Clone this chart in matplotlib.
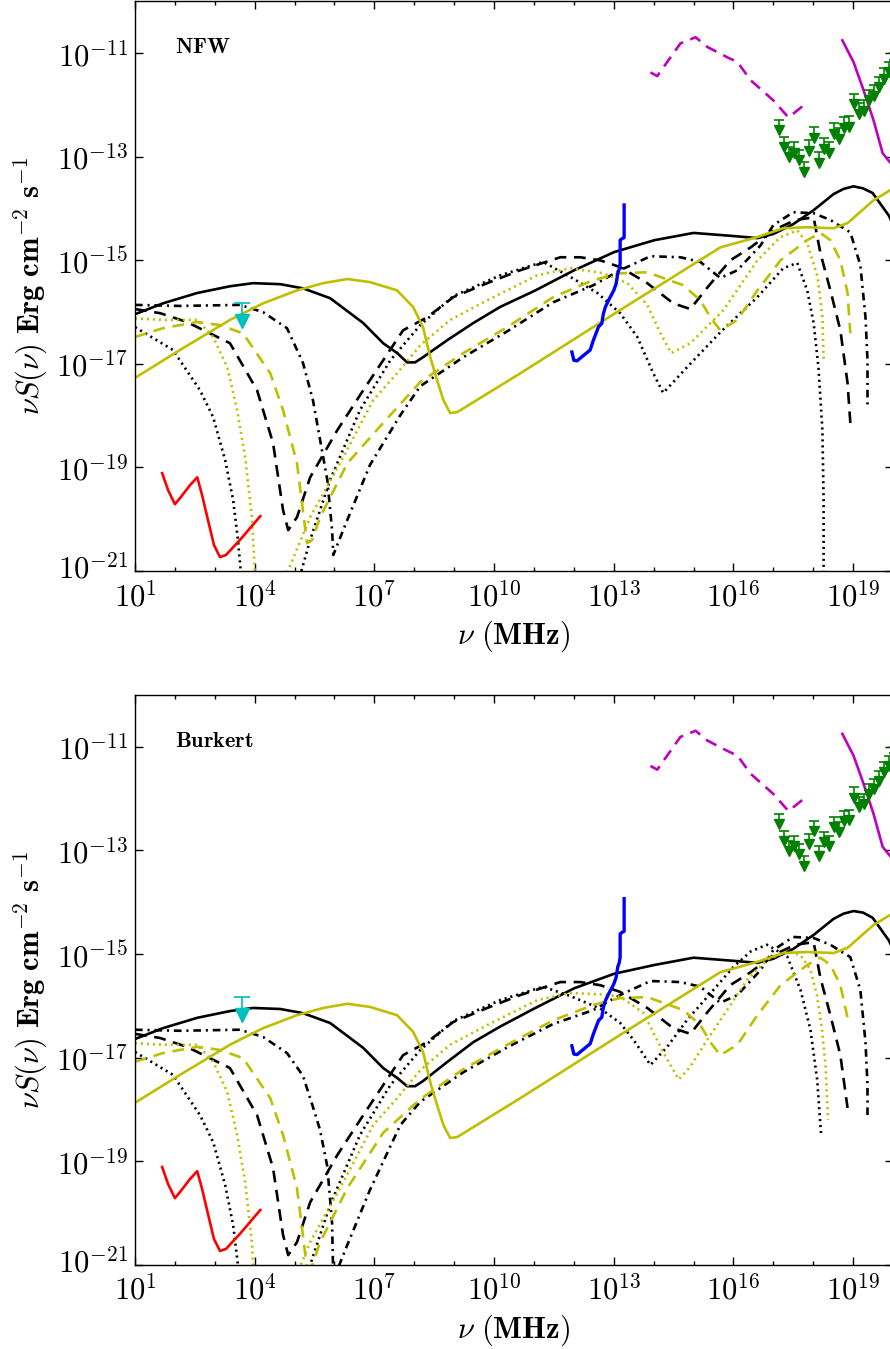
import numpy as np
import matplotlib
matplotlib.use("Agg")
import matplotlib.pyplot as plt
from matplotlib.ticker import FixedLocator, FuncFormatter, NullFormatter, NullLocator
from matplotlib.transforms import ScaledTranslation

plt.rcParams["mathtext.fontset"] = "cm"
plt.rcParams["lines.scale_dashes"] = False
plt.rcParams["axes.linewidth"] = 1.0

# ---------------- data (log10 nu [MHz], log10 nuS [erg cm^-2 s^-1]) ----------------
K_SOLID_X = [1.00, 1.70, 2.56, 3.38, 3.96, 4.64, 5.21, 5.89, 6.72, 7.22, 7.57, 7.82, 8.02, 8.22, 8.83,
             9.48, 10.15, 11.01, 12.01, 13.01, 14.02, 15.00, 16.00, 16.60, 17.00, 17.50, 18.01, 18.51,
             18.76, 19.01, 19.25, 19.49, 19.89, 20.19]
K_SOLID_NFW = [-16.04, -15.83, -15.63, -15.50, -15.44, -15.46, -15.54, -15.73, -16.21, -16.60, -16.79,
               -16.97, -16.97, -16.87, -16.54, -16.21, -15.90, -15.59, -15.19, -14.84, -14.61, -14.47,
               -14.53, -14.57, -14.49, -14.30, -14.03, -13.72, -13.62, -13.57, -13.61, -13.70, -14.13,
               -14.61]
K_SOLID_BUR = [-16.64, -16.43, -16.23, -16.10, -16.04, -16.06, -16.14, -16.33, -16.81, -17.20, -17.39,
               -17.55, -17.55, -17.45, -17.08, -16.70, -16.40, -16.05, -15.66, -15.38, -15.21, -15.07,
               -15.13, -15.17, -15.09, -14.90, -14.63, -14.32, -14.22, -14.17, -14.20, -14.30, -14.73,
               -15.21]

Y_SOLID_X = [1.00, 2.13, 3.38, 4.21, 5.06, 5.72, 6.32, 6.89, 7.57, 7.97, 8.22, 8.40, 8.57, 8.73, 8.90,
             9.08, 10.66, 13.16, 15.67, 16.60, 17.25, 17.85, 18.51, 18.86, 19.20, 19.51, 19.94, 20.19]
Y_SOLID_NFW = [-17.27, -16.73, -16.15, -15.83, -15.58, -15.44, -15.36, -15.42, -15.58, -15.90, -16.29,
               -16.87, -17.31, -17.70, -17.95, -17.93, -17.18, -15.96, -14.75, -14.55, -14.38, -14.36,
               -14.38, -14.28, -14.05, -13.84, -13.64, -13.59]
Y_SOLID_BUR = [-17.87, -17.33, -16.75, -16.43, -16.18, -16.04, -15.96, -16.02, -16.18, -16.50, -16.89,
               -17.47, -17.91, -18.30, -18.55, -18.53, -17.78, -16.56, -15.35, -15.15, -14.98, -14.96,
               -14.98, -14.88, -14.65, -14.44, -14.24, -14.19]

K_DASH_X = [1.00, 1.63, 2.30, 3.38, 4.06, 4.46, 4.71, 4.84, 5.06, 5.39, 6.07, 6.72, 7.22, 7.72, 8.32,
            8.98, 9.83, 10.66, 11.66, 12.16, 12.66, 13.16, 13.84, 14.49, 14.92, 15.35, 15.92, 16.43,
            17.00, 17.55, 18.01, 18.18, 18.43, 18.68, 18.86, 18.93]
K_DASH_NFW = [-15.94, -16.02, -16.19, -16.60, -17.51, -18.53, -19.82, -20.21, -19.96, -19.19, -18.28,
              -17.51, -16.93, -16.35, -16.10, -15.71, -15.44, -15.19, -14.94, -14.94, -15.00, -15.13,
              -15.44, -15.83, -15.94, -15.52, -15.00, -14.75, -14.42, -14.22, -14.17, -14.86, -15.58,
              -16.35, -17.37, -18.14]
K_DASH_BUR = [-16.54, -16.62, -16.79, -17.20, -18.11, -19.13, -20.42, -20.81, -20.56, -19.79, -18.88,
              -18.11, -17.53, -16.95, -16.70, -16.31, -16.04, -15.79, -15.54, -15.54, -15.60, -15.73,
              -16.04, -16.43, -16.54, -16.12, -15.60, -15.35, -15.02, -14.82, -14.77, -15.46, -16.18,
              -16.95, -17.97, None]

K_DASHDOT_X = [1.00, 2.13, 3.63, 4.21, 4.81, 5.21, 5.46, 5.64, 5.82, 5.94, 5.97, 6.27, 6.89, 7.65, 8.15,
               9.23, 10.33, 11.48, 12.49, 13.16, 13.92, 14.67, 15.17, 15.67, 16.10, 16.68, 17.00, 17.50,
               18.01, 18.43, 18.93, 19.18, 19.31, 19.36, 19.36]
K_DASHDOT_NFW = [-15.86, -15.88, -15.86, -16.00, -16.31, -16.98, -17.70, -18.47, -19.24, -20.21, -20.69,
                 -20.11, -18.95, -17.99, -17.43, -16.87, -16.37, -15.81, -15.48, -15.19, -14.92, -14.94,
                 -15.03, -15.34, -15.19, -14.71, -14.32, -14.07, -14.09, -14.22, -14.46, -15.09, -16.10,
                 -16.93, -17.83]
K_DASHDOT_BUR = [-16.46, -16.48, -16.46, -16.60, -16.91, -17.35, -17.95, -18.40, -19.10, -20.20, -21.29,
                 -20.71, -19.55, -18.30, -17.85, -17.28, -16.80, -16.35, -16.08, -15.79, -15.52, -15.54,
                 -15.63, -15.94, -15.79, -15.31, -14.92, -14.67, -14.69, -14.82, -15.06, -15.69, -16.70,
                 -17.53, -18.20]

K_DOT_X_NFW = [1.00, 1.95, 2.63, 2.96, 3.26, 3.46, 3.58, 3.66, 3.75, 5.05, 5.14, 5.39, 5.89, 6.64, 7.40,
               8.15, 8.98, 10.15, 11.23, 11.91, 12.59, 13.16, 13.59, 13.99, 14.24, 14.84, 15.67, 16.60,
               17.25, 17.60, 17.85, 18.01, 18.13, 18.23, 18.26, 18.26, 18.27]
K_DOT_NFW = [-16.29, -16.73, -17.51, -18.03, -18.86, -19.63, -20.40, -21.08, -21.6, -21.6, -21.08, -20.40,
             -19.24, -17.89, -16.93, -16.25, -15.69, -15.29, -15.03, -15.32, -15.63, -16.02, -16.48,
             -17.18, -17.56, -17.06, -16.39, -15.71, -15.15, -15.05, -15.58, -16.21, -17.06, -18.28,
             -19.63, -21.08, -21.6]
K_DOT_X_BUR = [1.00, 1.95, 2.63, 2.96, 3.26, 3.46, 3.58, 3.66, 3.75, 5.05, 5.14, 5.39, 5.89, 6.64, 7.40,
               8.15, 8.98, 10.15, 11.23, 11.91, 12.66, 13.16, 13.50, 13.92, 14.34, 14.84, 15.42, 16.01,
               16.43, 16.84, 17.35, 17.68, 17.93, 18.10, 18.20]
K_DOT_BUR = [-16.89, -17.33, -18.11, -18.63, -19.46, -20.23, -21.00, -21.68, -22.2, -22.2, -21.68, -21.00,
             -19.84, -18.49, -17.53, -16.85, -16.29, -15.89, -15.63, -15.81, -16.05, -16.33, -16.66,
             -17.14, -16.79, -16.27, -15.76, -15.24, -14.95, -14.82, -15.05, -15.69, -16.46, -17.43,
             -18.52]

Y_DASH_X = [1.00, 1.70, 2.56, 3.13, 3.71, 4.39, 4.71, 5.06, 5.24, 5.31, 5.44, 5.64, 6.32, 7.22, 8.15,
            9.23, 10.33, 11.48, 12.49, 13.16, 13.84, 14.74, 15.17, 15.42, 15.67, 16.10, 16.60, 17.18,
            17.85, 18.18, 18.43, 18.68, 18.86, 18.93]
Y_DASH_NFW = [-16.48, -16.31, -16.19, -16.25, -16.41, -17.18, -17.89, -18.92, -20.02, -20.46, -20.40,
              -19.96, -18.92, -18.14, -17.35, -16.79, -16.29, -15.71, -15.38, -15.25, -15.23, -15.48,
              -15.77, -16.10, -16.35, -16.15, -15.58, -15.00, -14.61, -14.47, -14.61, -15.00, -15.63,
              -16.41]
Y_DASH_BUR = [-17.08, -16.91, -16.79, -16.85, -17.01, -17.78, -18.49, -19.52, -20.62, -21.06, -21.00,
              -20.56, -19.52, -18.45, -17.80, -17.22, -16.75, -16.28, -15.98, -15.85, -15.83, -16.08,
              -16.37, -16.70, -16.95, -16.75, -16.18, -15.60, -15.21, -15.07, -15.21, -15.60, -16.23,
              None]

Y_DOT_X_NFW = [1.00, 1.70, 2.56, 2.96, 3.31, 3.56, 3.76, 3.93, 4.01, 4.10, 4.75, 4.79, 5.39, 6.22, 6.97,
               7.57, 8.15, 8.90, 9.83, 11.08, 11.91, 12.74, 13.34, 13.84, 14.17, 14.44, 14.92, 15.75,
               16.60, 17.18, 17.60, 17.85, 18.11, 18.23, 18.26]
Y_DOT_NFW = [-16.12, -16.15, -16.15, -16.48, -17.06, -17.89, -18.80, -19.96, -21.08, -21.6, -21.6, -21.08,
             -19.96, -18.80, -17.70, -17.18, -16.64, -16.15, -15.77, -15.29, -15.15, -15.25, -15.44,
             -15.86, -16.41, -16.79, -16.60, -15.96, -15.00, -14.55, -14.42, -14.67, -15.32, -16.10,
             -16.93]
Y_DOT_X_BUR = [1.00, 1.70, 2.56, 2.96, 3.31, 3.56, 3.76, 3.93, 4.01, 4.10, 4.75, 4.79, 5.39, 6.22, 6.97,
               7.57, 8.15, 8.90, 9.83, 11.08, 11.91, 12.74, 13.16, 13.75, 14.00, 14.25, 14.63, 14.92,
               15.34, 15.84, 16.34, 16.84, 17.35, 17.68, 17.93, 18.10, 18.22, 18.31, 18.37]
Y_DOT_BUR = [-16.72, -16.75, -16.75, -17.08, -17.66, -18.49, -19.40, -20.56, -21.68, -22.2, -22.2, -21.68,
             -20.56, -19.40, -18.30, -17.78, -17.24, -16.75, -16.37, -15.89, -15.75, -15.78, -15.82,
             -16.14, -16.53, -16.91, -17.42, -17.17, -16.66, -16.08, -15.50, -15.11, -14.95, -15.02,
             -15.30, -15.82, -16.46, -17.17, -18.20]

# observational constraints (same in both panels)
RED_X = [1.68, 1.83, 2.00, 2.13, 2.38, 2.56, 2.68, 2.83, 2.98, 3.13, 3.28, 3.63, 4.14]
RED_Y = [-19.11, -19.44, -19.71, -19.59, -19.34, -19.19, -19.53, -20.02, -20.50, -20.73, -20.69, -20.40,
         -19.94]

BLUE_X = [11.95, 12.00, 12.08, 12.41, 12.49, 12.62, 12.70, 12.74, 12.79, 12.87, 12.96, 13.00, 13.06,
          13.10, 13.14, 13.16, 13.16, 13.21, 13.26, 13.26]
BLUE_Y = [-16.77, -16.93, -16.94, -16.73, -16.54, -16.28, -16.22, -16.03, -15.90, -15.77, -15.64, -15.58,
          -15.45, -15.25, -15.16, -15.06, -14.61, -14.58, -14.56, -13.93]

MAG_DASH_X = [13.92, 14.09, 14.67, 15.05, 15.35, 15.85, 16.10, 16.43, 17.00, 17.38, 17.85]
MAG_DASH_Y = [-11.37, -11.44, -10.81, -10.69, -10.88, -11.08, -11.17, -11.52, -11.91, -12.24, -11.95]

MAG_SOLID_X = [18.73, 19.01, 19.26, 19.51, 19.74, 19.94, 20.20]
MAG_SOLID_Y = [-10.75, -11.17, -11.71, -12.29, -12.93, -13.12, -13.30]

CYAN_X = [3.68]
CYAN_Y = [-15.83]

GREEN_X = [17.13, 17.26, 17.39, 17.51, 17.64, 17.76, 17.89, 18.01, 18.14, 18.26, 18.39, 18.51, 18.64,
           18.77, 18.89, 19.02, 19.14, 19.27, 19.39, 19.52, 19.64, 19.77, 19.89, 20.02]
GREEN_Y = [-12.29, -12.62, -12.81, -12.72, -12.87, -13.10, -12.68, -12.43, -12.91, -12.64, -12.72,
           -12.35, -12.45, -12.24, -12.22, -11.78, -11.97, -11.91, -11.71, -11.62, -11.46, -11.29,
           -11.17, -11.00]

PANEL_LABELS = ["NFW", "Burkert"]

# ---------------- styles ----------------
LW = 1.9
DASHED = (0, (8.5, 5.5))
DOTTED = (0, (1.5, 2.8))
DASHDOT = (0, (5.5, 3.5, 1.5, 3.5))

MODELS = [
    ("k", "-", (K_SOLID_X, K_SOLID_NFW), (K_SOLID_X, K_SOLID_BUR)),
    ("k", DASHED, (K_DASH_X, K_DASH_NFW), (K_DASH_X, K_DASH_BUR)),
    ("k", DOTTED, (K_DOT_X_NFW, K_DOT_NFW), (K_DOT_X_BUR, K_DOT_BUR)),
    ("k", DASHDOT, (K_DASHDOT_X, K_DASHDOT_NFW), (K_DASHDOT_X, K_DASHDOT_BUR)),
    ("y", "-", (Y_SOLID_X, Y_SOLID_NFW), (Y_SOLID_X, Y_SOLID_BUR)),
    ("y", DASHED, (Y_DASH_X, Y_DASH_NFW), (Y_DASH_X, Y_DASH_BUR)),
    ("y", DOTTED, (Y_DOT_X_NFW, Y_DOT_NFW), (Y_DOT_X_BUR, Y_DOT_BUR)),
]


def p10(v):
    return 10.0 ** np.asarray(v, dtype=float)


def upper_limits(ax, lx, ly, color, drop, ms, cap):
    ly = np.asarray(ly, dtype=float)
    x = p10(lx)
    ax.vlines(x, p10(ly - drop), p10(ly), colors=color, lw=1.2, zorder=5)
    ax.plot(x, p10(ly), ls="none", marker="_", ms=cap, mew=1.2, color=color, zorder=5)
    ax.plot(x, p10(ly - drop), ls="none", marker="v", ms=ms, color=color, mec=color, zorder=6)


def panel(ax, idx, label):
    for color, ls, nfw, bur in MODELS:
        xs, ys = (nfw, bur)[idx]
        ax.plot(p10(xs), p10(ys), color=color, ls=ls, lw=LW)
    ax.plot(p10(RED_X), p10(RED_Y), color="r", lw=LW)
    ax.plot(p10(BLUE_X), p10(BLUE_Y), color="b", lw=2.4)
    ax.plot(p10(MAG_DASH_X), p10(MAG_DASH_Y), color="m", ls=DASHED, lw=LW)
    ax.plot(p10(MAG_SOLID_X), p10(MAG_SOLID_Y), color="m", lw=LW)
    upper_limits(ax, CYAN_X, CYAN_Y, "c", 0.34, 10, 12)
    upper_limits(ax, GREEN_X, GREEN_Y, "g", 0.20, 7, 7)

    ax.set_xscale("log")
    ax.set_yscale("log")
    ax.set_xlim(1e1, 1e20)
    ax.set_ylim(1e-21, 1e-10)
    ax.xaxis.set_major_locator(FixedLocator(10.0 ** np.arange(1, 20, 3)))
    ax.xaxis.set_minor_locator(FixedLocator(10.0 ** np.arange(1, 21)))
    ax.xaxis.set_minor_formatter(NullFormatter())
    ax.yaxis.set_major_locator(FixedLocator(10.0 ** np.arange(-21, -10, 2)))
    ax.yaxis.set_minor_locator(NullLocator())
    fmt = FuncFormatter(lambda v, p: r"$10^{%d}$" % int(round(np.log10(v))))
    ax.xaxis.set_major_formatter(fmt)
    ax.yaxis.set_major_formatter(fmt)
    ax.tick_params(which="both", direction="in", top=True, right=True)
    ax.tick_params(which="major", length=6, width=1, labelsize=22)
    ax.tick_params(axis="x", which="major", pad=7)
    ax.tick_params(axis="y", which="major", pad=5)
    ax.tick_params(which="minor", length=3, width=1)
    ax.set_xlabel(r"$\nu\ (\mathbf{MHz})$", fontsize=22, labelpad=5)
    ax.set_ylabel(r"$\nu S(\nu)\ \mathbf{Erg\ cm}^{-2}\ \mathbf{s}^{-1}$", fontsize=22, labelpad=5)
    ax.text(0.053, 0.909, r"$\mathbf{%s}$" % label, transform=ax.transAxes,
            fontsize=16, va="baseline", ha="left")


fig = plt.figure(figsize=(8.9, 13.49), dpi=100, facecolor="white")
ax1 = fig.add_axes([0.1517, 0.5767, 0.8517, 0.4222])
ax2 = fig.add_axes([0.1517, 0.0623, 0.8517, 0.4225])
panel(ax1, 0, PANEL_LABELS[0])
panel(ax2, 1, PANEL_LABELS[1])

# lift the lowest y tick label a little so it does not collide with the first x tick label
fig.canvas.draw()
for ax in (ax1, ax2):
    lab = ax.yaxis.get_major_ticks()[0].label1
    lab.set_transform(lab.get_transform() + ScaledTranslation(0, 4 / 72, fig.dpi_scale_trans))

fig.savefig("out.png", dpi=100, facecolor="white")
